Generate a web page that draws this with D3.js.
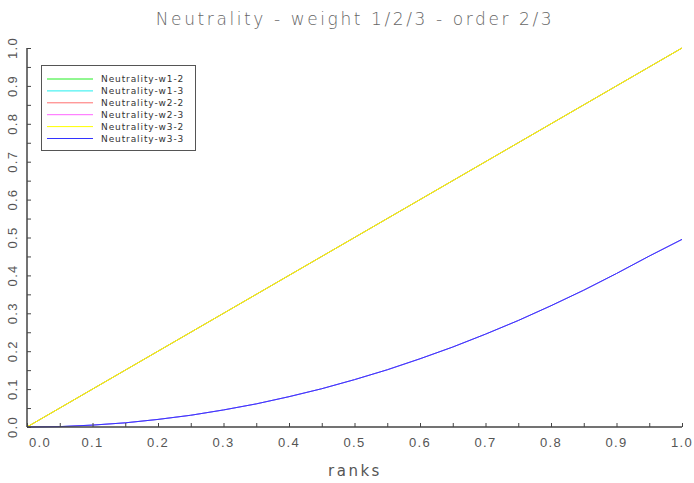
<!DOCTYPE html>
<html>
<head>
<meta charset="utf-8">
<script src="https://cdn.jsdelivr.net/npm/d3@7/dist/d3.min.js"></script>
<style>
  html, body { margin: 0; padding: 0; background: #fff; }
  svg { display: block; font-family: "DejaVu Sans", sans-serif; }
</style>
</head>
<body>
<script>
// ranks sampled every 0.05
const ranks = [0, 0.05, 0.1, 0.15, 0.2, 0.25, 0.3, 0.35, 0.4, 0.45, 0.5,
               0.55, 0.6, 0.65, 0.7, 0.75, 0.8, 0.85, 0.9, 0.95, 1.0];
// order-2 neutrality (all weights coincide)
const order2 = [0, 0.05, 0.1, 0.15, 0.2, 0.25, 0.3, 0.35, 0.4, 0.45, 0.5,
                0.55, 0.6, 0.65, 0.7, 0.75, 0.8, 0.85, 0.9, 0.95, 1.0];
// order-3 neutrality (all weights coincide)
const order3 = [0, 0.001, 0.005, 0.011, 0.02, 0.031, 0.045, 0.061, 0.08, 0.101, 0.125,
                0.151, 0.18, 0.211, 0.245, 0.281, 0.32, 0.361, 0.405, 0.451, 0.495];

const seriesNames = ["Neutrality-w1-2", "Neutrality-w1-3", "Neutrality-w2-2",
                     "Neutrality-w2-3", "Neutrality-w3-2", "Neutrality-w3-3"];
const seriesValues = [order2, order3, order2, order3, order2, order3];
const seriesColors = ["#22ee22", "#22eeee", "#ff7070", "#ff66ff", "#ffff00", "#3333ff"];

const xTicks = [0, 0.1, 0.2, 0.3, 0.4, 0.5, 0.6, 0.7, 0.8, 0.9, 1.0];
const yTicks = [0, 0.1, 0.2, 0.3, 0.4, 0.5, 0.6, 0.7, 0.8, 0.9, 1.0];
const minorTicks = d3.range(0, 21).map(i => i * 0.05);

const W = 694, H = 483;
const svg = d3.select("body").append("svg").attr("width", W).attr("height", H);

const x = d3.scaleLinear().domain([0, 1]).range([27, 682]);
const y = d3.scaleLinear().domain([0, 1]).range([427, 48]);

const ink = "#444";

// title
svg.append("text")
  .attr("x", 355).attr("y", 25)
  .attr("text-anchor", "middle")
  .attr("font-size", 17).attr("fill", "#666")
  .attr("letter-spacing", 2.6)
  .style("font-weight", 300)
  .text("Neutrality - weight 1/2/3 - order 2/3");

// series lines
const line = d3.line().x((d, i) => x(ranks[i])).y(d => y(d));
seriesValues.forEach((vals, k) => {
  svg.append("path")
    .datum(vals)
    .attr("d", line)
    .attr("fill", "none")
    .attr("stroke", seriesColors[k])
    .attr("stroke-width", 1);
});

// x axis with inward ticks
const xAxis = svg.append("g").attr("transform", `translate(0,${y(0)})`);
xAxis.call(d3.axisTop(x).tickValues(minorTicks).tickSize(4).tickFormat(""))
  .call(g => g.select(".domain").remove())
  .call(g => g.selectAll("line").attr("stroke", ink));
xAxis.append("line").attr("x1", x(0)).attr("x2", x(1)).attr("stroke", ink).attr("stroke-width", 1.5);
xAxis.selectAll("text.lab").data(xTicks).enter().append("text")
  .attr("class", "lab")
  .attr("x", d => d === 0 ? x(d) + 13 : x(d)).attr("y", 20)
  .attr("text-anchor", "middle")
  .attr("font-size", 13).attr("fill", "#555")
  .attr("letter-spacing", 1.3)
  .text(d => d.toFixed(1));

// y axis with inward ticks
const yAxis = svg.append("g").attr("transform", `translate(${x(0)},0)`);
yAxis.call(d3.axisRight(y).tickValues(minorTicks).tickSize(4).tickFormat(""))
  .call(g => g.select(".domain").remove())
  .call(g => g.selectAll("line").attr("stroke", ink));
yAxis.append("line").attr("y1", y(0)).attr("y2", y(1)).attr("stroke", ink).attr("stroke-width", 1.5);
yAxis.selectAll("text.lab").data(yTicks).enter().append("text")
  .attr("class", "lab")
  .attr("transform", d => `translate(-10,${y(d)}) rotate(-90)`)
  .attr("text-anchor", "middle")
  .attr("font-size", 13).attr("fill", "#555")
  .attr("letter-spacing", 1.3)
  .text(d => d.toFixed(1));

// x axis title
svg.append("text")
  .attr("x", 355).attr("y", 476)
  .attr("text-anchor", "middle")
  .attr("font-size", 15).attr("fill", "#555")
  .attr("letter-spacing", 2.5)
  .text("ranks");

// legend
const legend = svg.append("g");
legend.append("rect")
  .attr("x", 41.5).attr("y", 65.5).attr("width", 154).attr("height", 85)
  .attr("fill", "#fff").attr("stroke", "#555").attr("stroke-width", 1);
seriesNames.forEach((name, k) => {
  const ry = 79 + k * 11.9;
  legend.append("line")
    .attr("x1", 47).attr("x2", 93).attr("y1", ry).attr("y2", ry)
    .attr("stroke", seriesColors[k]).attr("stroke-width", 1);
  legend.append("text")
    .attr("x", 101).attr("y", ry + 3)
    .attr("font-size", 9).attr("fill", "#333")
    .attr("letter-spacing", 0.9)
    .text(name);
});
</script>
</body>
</html>
